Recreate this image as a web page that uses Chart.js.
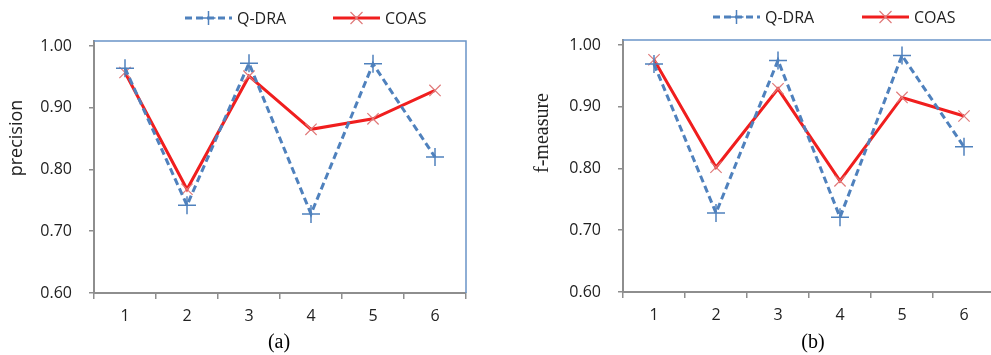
<!DOCTYPE html>
<html>
<head>
<meta charset="utf-8">
<script src="https://cdn.jsdelivr.net/npm/chart.js@4.4.1/dist/chart.umd.min.js"></script>
<style>
html,body{margin:0;padding:0;background:#fff;overflow:hidden;width:991px;height:355px;}
#wrap{position:relative;width:991px;height:355px;overflow:hidden;}
#c1{position:absolute;left:0;top:0;}
#c2{position:absolute;left:500px;top:0;}
</style>
</head>
<body>
<div id="wrap">
<canvas id="c1" width="500" height="355"></canvas>
<canvas id="c2" width="520" height="355"></canvas>
</div>
<script>
const categories = ['1','2','3','4','5','6'];
const seriesNames = ['Q-DRA','COAS'];
const precisionQDRA = [0.964,0.742,0.972,0.728,0.971,0.820];
const precisionCOAS = [0.957,0.768,0.951,0.865,0.882,0.928];
const fmeasureQDRA = [0.969,0.728,0.975,0.721,0.983,0.835];
const fmeasureCOAS = [0.976,0.802,0.929,0.780,0.915,0.885];
const yTickValues = [0.60,0.70,0.80,0.90,1.00];

const BLUE = '#4F81BD';
const RED = '#F01E1E';
const TEXT = '#222222';
const AXIS = '#8E8E8E';
const SANS = '"Open Sans", "DejaVu Sans", sans-serif';
const SERIF = '"Liberation Serif", "DejaVu Serif", serif';

function makeDatasets(q, c){
  return [
    {label: seriesNames[0], data: q, borderColor: BLUE, borderWidth: 3, borderDash: [7,4],
     pointStyle: 'cross', pointRadius: 9, pointBorderColor: BLUE, pointBorderWidth: 1.5,
     pointBackgroundColor: BLUE, tension: 0, fill: false, legendMarker: 'plus'},
    {label: seriesNames[1], data: c, borderColor: RED, borderWidth: 3,
     pointStyle: 'crossRot', pointRadius: 8, pointBorderColor: '#E07A7A', pointBorderWidth: 1.2,
     pointBackgroundColor: '#E07A7A', tension: 0, fill: false, legendMarker: 'x'}
  ];
}

const decor = {
  id: 'decor',
  afterDraw(chart, args, o){
    const ctx = chart.ctx, a = chart.chartArea;
    ctx.save();
    // blue plot-area border (top and right)
    ctx.strokeStyle = '#6A94C8';
    ctx.lineWidth = 1.5;
    ctx.beginPath();
    ctx.moveTo(a.left, a.top);
    ctx.lineTo(a.right, a.top);
    if (o.rightBorder) ctx.lineTo(a.right, a.bottom);
    ctx.stroke();
    // y title
    ctx.fillStyle = TEXT;
    ctx.font = o.titleFont;
    ctx.textAlign = 'center';
    ctx.textBaseline = 'middle';
    ctx.translate(o.titleX, o.titleY);
    ctx.rotate(-Math.PI/2);
    ctx.fillText(o.title, 0, 0);
    ctx.restore();
    // caption
    ctx.save();
    ctx.fillStyle = '#000';
    ctx.font = '20px ' + SERIF;
    ctx.textAlign = 'center';
    ctx.textBaseline = 'middle';
    ctx.fillText(o.caption, o.captionX, 343);
    ctx.restore();
    // legend
    chart.data.datasets.forEach((ds, i) => {
      const x0 = o.legendX[i], y = o.legendY, w = 47;
      ctx.save();
      ctx.strokeStyle = ds.borderColor;
      ctx.lineWidth = ds.borderWidth;
      ctx.setLineDash(ds.borderDash || []);
      ctx.beginPath(); ctx.moveTo(x0, y); ctx.lineTo(x0 + w, y); ctx.stroke();
      ctx.setLineDash([]);
      const cx = x0 + w/2;
      ctx.strokeStyle = ds.pointBorderColor;
      ctx.lineWidth = ds.pointBorderWidth;
      ctx.beginPath();
      if (ds.legendMarker === 'plus') {
        ctx.moveTo(cx-7, y); ctx.lineTo(cx+7, y); ctx.moveTo(cx, y-7); ctx.lineTo(cx, y+7);
      } else {
        ctx.moveTo(cx-6, y-6); ctx.lineTo(cx+6, y+6); ctx.moveTo(cx-6, y+6); ctx.lineTo(cx+6, y-6);
      }
      ctx.stroke();
      ctx.fillStyle = TEXT;
      ctx.font = '16px ' + SANS;
      ctx.textAlign = 'left';
      ctx.textBaseline = 'middle';
      ctx.fillText(ds.label, x0 + w + 5, y + 1);
      ctx.restore();
    });
  }
};

function makeChart(id, q, c, cfg){
  return new Chart(document.getElementById(id), {
    type: 'line',
    data: {labels: categories, datasets: makeDatasets(q, c)},
    plugins: [decor],
    options: {
      responsive: false,
      animation: false,
      devicePixelRatio: 1,
      layout: {padding: {left: 0, right: cfg.padRight, top: cfg.padTop, bottom: 0}},
      plugins: {
        legend: {display: false},
        tooltip: {enabled: false},
        decor: cfg.decor
      },
      scales: {
        x: {
          type: 'category',
          offset: true,
          grid: {offset: true, drawOnChartArea: false, drawTicks: true, tickLength: 6, color: AXIS, lineWidth: 1.5},
          border: {color: AXIS, width: 2},
          ticks: {color: TEXT, font: {family: SANS, size: 16}, padding: 8, maxRotation: 0},
          afterFit: s => { s.height = cfg.xHeight; }
        },
        y: {
          type: 'linear',
          min: 0.6, max: 1.008,
          afterBuildTicks: s => { s.ticks = yTickValues.map(v => ({value: v})); },
          grid: {drawOnChartArea: false, drawTicks: true, tickLength: 5, color: AXIS, lineWidth: 1.5},
          border: {color: AXIS, width: 2},
          ticks: {color: TEXT, font: {family: SANS, size: 16}, padding: 17,
                  callback: v => Number(v).toFixed(2)},
          afterFit: s => { s.width = cfg.yWidth; }
        }
      }
    }
  });
}

makeChart('c1', precisionQDRA, precisionCOAS, {
  padRight: 34, padTop: 41, xHeight: 62, yWidth: 94,
  decor: {rightBorder: true, title: 'precision', titleFont: '18px ' + SANS, titleX: 17, titleY: 138,
          caption: '(a)', captionX: 279, legendX: [185, 333], legendY: 18}
});
makeChart('c2', fmeasureQDRA, fmeasureCOAS, {
  padRight: 25, padTop: 40, xHeight: 63, yWidth: 123,
  decor: {rightBorder: false, title: 'f-measure', titleFont: '20px ' + SERIF, titleX: 43, titleY: 133,
          caption: '(b)', captionX: 313, legendX: [213, 362], legendY: 17}
});
</script>
</body>
</html>
